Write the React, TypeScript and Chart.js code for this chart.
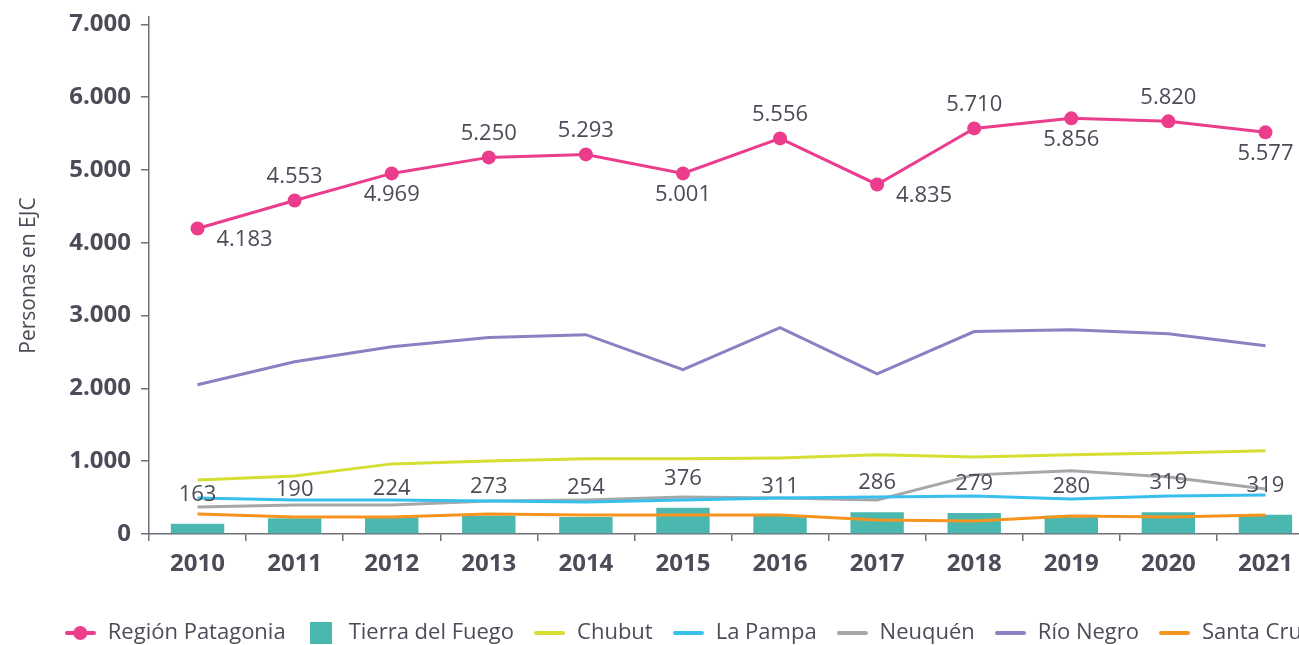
import React, { useEffect, useRef } from 'react';
import { Chart, registerables } from 'chart.js';

Chart.register(...registerables);

const years = ['2010', '2011', '2012', '2013', '2014', '2015', '2016', '2017', '2018', '2019', '2020', '2021'];

const patagoniaValues = [4195, 4580, 4952, 5172, 5213, 4952, 5433, 4800, 5570, 5708, 5667, 5516];
const patagoniaLabels = [4183, 4553, 4969, 5250, 5293, 5001, 5556, 4835, 5710, 5856, 5820, 5577];
const patagoniaLabelPlacement = ['right', 'above', 'below', 'above', 'above', 'below', 'above', 'right', 'above', 'below', 'above', 'below'];

const tierraDelFuegoValues = [140, 215, 230, 250, 235, 360, 250, 300, 290, 250, 300, 265];
const tierraDelFuegoLabels = [163, 190, 224, 273, 254, 376, 311, 286, 279, 280, 319, 319];

const chubutValues = [743, 798, 963, 1004, 1032, 1032, 1045, 1087, 1059, 1087, 1114, 1142];
const laPampaValues = [495, 468, 468, 454, 440, 468, 495, 509, 523, 481, 523, 536];
const neuquenValues = [371, 399, 399, 454, 468, 509, 495, 468, 812, 867, 784, 619];
const rioNegroValues = [2050, 2365, 2572, 2700, 2737, 2256, 2834, 2200, 2780, 2806, 2751, 2586];
const santaCruzValues = [275, 234, 234, 275, 261, 261, 261, 193, 179, 248, 234, 261];

const yTickValues = [0, 1000, 2000, 3000, 4000, 5000, 6000, 7000];

const TEXT = '#4b4c58';
const AXIS = '#6f7078';
const FONT = '"Open Sans", "Noto Sans", sans-serif';

const fmt = (n: number) => String(n).replace(/\B(?=(\d{3})+(?!\d))/g, '.');

function lineIcon(color: string, withDot: boolean) {
  const c = document.createElement('canvas');
  c.width = 31;
  c.height = withDot ? 16 : 6;
  const g = c.getContext('2d')!;
  g.strokeStyle = color;
  g.lineWidth = 4;
  g.lineCap = 'round';
  g.beginPath();
  g.moveTo(2, c.height / 2);
  g.lineTo(29, c.height / 2);
  g.stroke();
  if (withDot) {
    g.fillStyle = color;
    g.beginPath();
    g.arc(15.5, 8, 7, 0, Math.PI * 2);
    g.fill();
  }
  return c;
}

function squareIcon(color: string) {
  const c = document.createElement('canvas');
  c.width = 22;
  c.height = 22;
  const g = c.getContext('2d')!;
  g.fillStyle = color;
  g.fillRect(0, 0, 22, 22);
  return c;
}

const valueLabels = {
  id: 'valueLabels',
  afterDatasetsDraw(chart: any) {
    const ctx = chart.ctx;
    ctx.save();
    ctx.font = '22px ' + FONT;
    ctx.fillStyle = TEXT;
    ctx.textAlign = 'center';
    ctx.textBaseline = 'middle';
    const barMeta = chart.getDatasetMeta(1);
    barMeta.data.forEach((el: any, i: number) => {
      ctx.fillText(fmt(tierraDelFuegoLabels[i]), el.x, el.y - 29);
    });
    const pMeta = chart.getDatasetMeta(0);
    pMeta.data.forEach((el: any, i: number) => {
      const p = patagoniaLabelPlacement[i];
      let dx = 0;
      let dy = 0;
      if (p === 'above') dy = -24;
      else if (p === 'below') dy = 21;
      else {
        dx = 47;
        dy = 11;
      }
      ctx.fillText(fmt(patagoniaLabels[i]), el.x + dx, el.y + dy);
    });
    ctx.restore();
  },
};

const shiftLegend = {
  id: 'shiftLegend',
  afterLayout(chart: any) {
    const l = chart.legend;
    if (l) {
      l.left += 31;
      l.right += 31;
    }
  },
};

export default function App() {
  const ref = useRef<HTMLCanvasElement>(null);

  useEffect(() => {
    if (!ref.current) return;
    const colors = {
      patagonia: '#ec3d8d',
      tdf: '#4bb8b0',
      chubut: '#d5df33',
      laPampa: '#39bfee',
      neuquen: '#a6a7aa',
      rioNegro: '#8e7fc2',
      santaCruz: '#f7941f',
    };
    const icons = [
      lineIcon(colors.patagonia, true),
      squareIcon(colors.tdf),
      lineIcon(colors.chubut, false),
      lineIcon(colors.laPampa, false),
      lineIcon(colors.neuquen, false),
      lineIcon(colors.rioNegro, false),
      lineIcon(colors.santaCruz, false),
    ];
    const lineDs = (label: string, data: number[], color: string) => ({
      type: 'line' as const,
      label,
      data,
      borderColor: color,
      backgroundColor: color,
      borderWidth: 3,
      pointRadius: 0,
      tension: 0,
      order: 1,
    });

    const chart = new Chart(ref.current, {
      type: 'bar',
      data: {
        labels: years,
        datasets: [
          {
            type: 'line',
            label: 'Región Patagonia',
            data: patagoniaValues,
            borderColor: colors.patagonia,
            backgroundColor: colors.patagonia,
            borderWidth: 3,
            pointRadius: 7,
            pointBorderWidth: 0,
            pointBackgroundColor: colors.patagonia,
            tension: 0,
            order: 0,
          } as any,
          {
            type: 'bar',
            label: 'Tierra del Fuego',
            data: tierraDelFuegoValues,
            backgroundColor: colors.tdf,
            barPercentage: 0.55,
            categoryPercentage: 1,
            order: 10,
          },
          lineDs('Chubut', chubutValues, colors.chubut),
          lineDs('La Pampa', laPampaValues, colors.laPampa),
          lineDs('Neuquén', neuquenValues, colors.neuquen),
          lineDs('Río Negro', rioNegroValues, colors.rioNegro),
          lineDs('Santa Cruz', santaCruzValues, colors.santaCruz),
        ],
      },
      options: {
        responsive: false,
        animation: false,
        layout: { padding: { left: 0, right: 46, top: 17, bottom: 0 } },
        plugins: {
          tooltip: { enabled: false },
          legend: {
            position: 'bottom',
            labels: {
              usePointStyle: true,
              pointStyleWidth: 33,
              padding: 19,
              color: TEXT,
              font: { family: FONT, size: 22 },
              generateLabels: (ch: any) =>
                ch.data.datasets.map((ds: any, i: number) => ({
                  text: ds.label,
                  pointStyle: icons[i],
                  datasetIndex: i,
                  fillStyle: 'rgba(0,0,0,0)',
                  strokeStyle: 'rgba(0,0,0,0)',
                  lineWidth: 0,
                  hidden: false,
                  fontColor: TEXT,
                })),
            },
          },
        },
        scales: {
          x: {
            offset: true,
            grid: { display: true, drawOnChartArea: false, offset: true, tickLength: 7, color: AXIS, lineWidth: 1.5 },
            border: { display: true, color: AXIS, width: 1.5 },
            ticks: { color: TEXT, padding: 9, font: { family: FONT, size: 24, weight: 'bold' } },
            afterFit: (s: any) => {
              s.height = 69;
            },
          },
          y: {
            min: 0,
            max: 7100,
            afterBuildTicks: (axis: any) => {
              axis.ticks = yTickValues.map((v) => ({ value: v }));
            },
            grid: { display: true, drawOnChartArea: false, tickLength: 8, color: AXIS, lineWidth: 1.5 },
            border: { display: true, color: AXIS, width: 1.5 },
            ticks: {
              color: TEXT,
              padding: 10,
              font: { family: FONT, size: 24, weight: 'bold' },
              callback: (v: any) => fmt(Number(v)),
            },
            title: {
              display: true,
              text: 'Personas en EJC',
              color: TEXT,
              font: { family: FONT, size: 21 },
              padding: { top: 16, bottom: 4 },
            },
            afterFit: (s: any) => {
              s.width = 149;
              s.paddingTop = 0;
              s.paddingBottom = 0;
            },
          },
        },
      },
      plugins: [valueLabels, shiftLegend],
    });
    return () => chart.destroy();
  }, []);

  return (
    <div style={{ position: 'absolute', left: 0, top: 0, width: 1299, height: 645, overflow: 'hidden', background: '#fff' }}>
      <canvas ref={ref} width={1360} height={654} style={{ display: 'block' }} />
    </div>
  );
}
